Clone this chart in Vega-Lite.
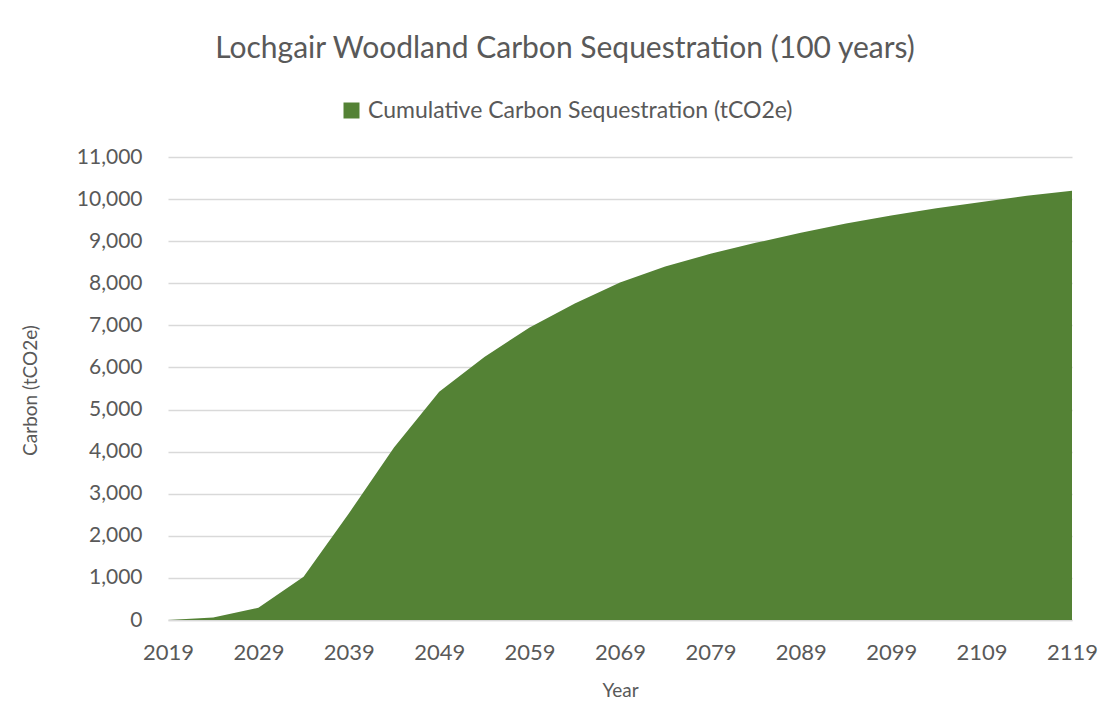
{
  "$schema": "https://vega.github.io/schema/vega-lite/v6.json",
  "width": 904,
  "height": 463,
  "autosize": {"type": "none"},
  "padding": {"left": 168, "top": 157, "right": 37, "bottom": 106},
  "background": "white",
  "title": {
    "text": "Lochgair Woodland Carbon Sequestration (100 years)",
    "font": "Lato",
    "fontSize": 30,
    "fontWeight": "normal",
    "color": "#595959",
    "anchor": "middle",
    "frame": "group",
    "dx": -55,
    "offset": 35
  },
  "config": {
    "view": {"stroke": null},
    "font": "Lato"
  },
  "data": {
    "values": [
      {"year": 2019, "carbon": 0},
      {"year": 2024, "carbon": 60},
      {"year": 2029, "carbon": 290},
      {"year": 2034, "carbon": 1030},
      {"year": 2039, "carbon": 2530},
      {"year": 2044, "carbon": 4100},
      {"year": 2049, "carbon": 5420},
      {"year": 2054, "carbon": 6250},
      {"year": 2059, "carbon": 6950},
      {"year": 2064, "carbon": 7520},
      {"year": 2069, "carbon": 8020},
      {"year": 2074, "carbon": 8400},
      {"year": 2079, "carbon": 8700},
      {"year": 2084, "carbon": 8960},
      {"year": 2089, "carbon": 9200},
      {"year": 2094, "carbon": 9420},
      {"year": 2099, "carbon": 9610},
      {"year": 2104, "carbon": 9780},
      {"year": 2109, "carbon": 9930},
      {"year": 2114, "carbon": 10080},
      {"year": 2119, "carbon": 10200}
    ]
  },
  "mark": {"type": "area", "color": "#548235", "opacity": 1},
  "encoding": {
    "x": {
      "field": "year",
      "type": "quantitative",
      "scale": {"domain": [2019, 2119], "nice": false, "zero": false},
      "axis": {
        "values": [2019, 2029, 2039, 2049, 2059, 2069, 2079, 2089, 2099, 2109, 2119],
        "format": "d",
        "grid": false,
        "ticks": false,
        "domainColor": "#d9d9d9",
        "domainWidth": 1.3,
        "labelFont": "Lato",
        "labelFontSize": 22,
        "labelColor": "#595959",
        "labelPadding": 22,
        "labelFlush": false,
        "title": "Year",
        "titleFont": "Lato",
        "titleFontSize": 19,
        "titleFontWeight": "normal",
        "titleColor": "#595959",
        "titleY": 70,
        "titleBaseline": "middle"
      }
    },
    "y": {
      "field": "carbon",
      "type": "quantitative",
      "scale": {"domain": [0, 11000], "nice": false},
      "axis": {
        "values": [0, 1000, 2000, 3000, 4000, 5000, 6000, 7000, 8000, 9000, 10000, 11000],
        "format": ",d",
        "grid": true,
        "gridColor": "#d9d9d9",
        "gridWidth": 1.3,
        "domain": false,
        "ticks": false,
        "labelFont": "Lato",
        "labelFontSize": 21,
        "labelColor": "#595959",
        "labelPadding": 26,
        "title": "Carbon (tCO2e)",
        "titleFont": "Lato",
        "titleFontSize": 19,
        "titleFontWeight": "normal",
        "titleColor": "#595959",
        "titleX": -138,
        "titleY": 233,
        "titleAngle": -90,
        "titleAlign": "center",
        "titleBaseline": "middle"
      }
    },
    "color": {
      "datum": "Cumulative Carbon Sequestration (tCO2e)",
      "type": "nominal",
      "scale": {"range": ["#548235"]},
      "legend": {
        "title": null,
        "orient": "none",
        "legendX": 172,
        "legendY": -58,
        "symbolType": "square",
        "symbolSize": 256,
        "symbolOpacity": 1,
        "symbolStrokeWidth": 0,
        "labelFont": "Lato",
        "labelFontSize": 23,
        "labelColor": "#595959",
        "labelOffset": 5,
        "labelLimit": 600
      }
    }
  }
}
